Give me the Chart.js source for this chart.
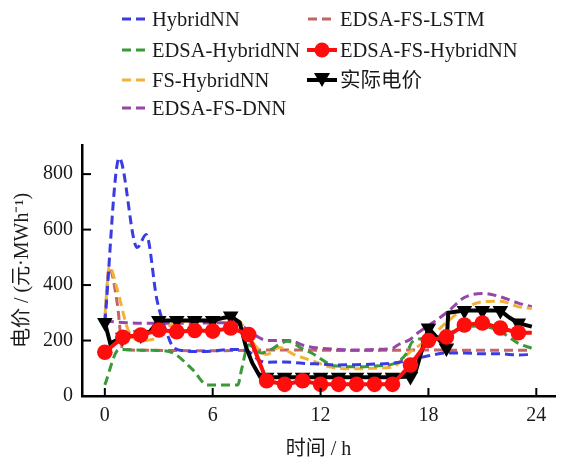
<!DOCTYPE html>
<html>
<head>
<meta charset="utf-8">
<script src="https://cdn.jsdelivr.net/npm/chart.js@4.4.1/dist/chart.umd.min.js"></script>
<style>
  html, body { margin:0; padding:0; background:#fff; }
  #wrap { position:relative; width:564px; height:462px; overflow:hidden; }
  canvas { position:absolute; left:0; top:0; }
  .lg { position:absolute; height:24px; line-height:24px; font-family:'Liberation Serif','Noto Sans CJK SC',serif; font-size:20.5px; color:#1a1a1a; white-space:nowrap; }
  .lg svg { position:absolute; top:0; }
</style>
</head>
<body>
<div id="wrap">
  <canvas id="c" width="564" height="462"></canvas>
  <div id="legend"></div>
</div>
<script>
// ---------- data ----------
const xTickValues = [0, 6, 12, 18, 24];
const yTickValues = [0, 200, 400, 600, 800];

const hybridX = [0, 0.8, 1.8, 2.3, 2.9, 3.45, 3.8, 4.5, 5, 6, 7, 8, 8.6, 9, 10, 11, 12, 13, 14, 15, 16, 17, 18, 19, 20, 21, 22, 23, 23.75];
const hybridY = [265, 858, 535, 582, 346, 227, 177, 162, 160, 162, 168, 160, 128, 122, 123, 118, 115, 112, 113, 115, 118, 130, 145, 155, 155, 152, 152, 148, 150];

const edsaHybridX = [0, 0.75, 1, 2, 3, 3.8, 4.9, 5.7, 6, 7, 7.4, 7.6, 8, 8.7, 9, 10.2, 11, 11.5, 12.6, 13, 14, 15, 16, 16.3, 16.8, 17.1, 18, 19, 20, 21, 22, 23, 23.75];
const edsaHybridY = [40, 166, 168, 165, 164, 155, 94, 40, 40, 40, 40, 94, 185, 155, 160, 197, 170, 155, 112, 108, 105, 108, 115, 123, 155, 195, 210, 222, 250, 252, 232, 190, 172];

const fsHybridX = [0, 0.25, 0.7, 1.3, 2, 2.7, 3.5, 4.3, 5, 6, 7, 7.5, 8.2, 9, 9.7, 10.5, 11.5, 12.5, 13, 14, 15, 16, 17, 18, 19, 20, 21, 22, 23, 23.75];
const fsHybridY = [285, 468, 382, 238, 200, 205, 250, 268, 272, 275, 280, 268, 195, 150, 175, 150, 128, 105, 100, 98, 100, 105, 160, 205, 265, 315, 340, 342, 322, 315];

const edsaFsDnnX = [0, 1, 2, 3, 4, 5, 6, 7, 7.5, 8, 8.6, 9, 10.2, 11.2, 12, 13, 14, 15, 16, 16.3, 17, 17.4, 17.9, 19, 20, 21, 22, 23, 23.75];
const edsaFsDnnY = [270, 265, 262, 262, 262, 262, 264, 264, 258, 235, 210, 200, 200, 180, 172, 168, 166, 168, 172, 184, 205, 227, 249, 300, 355, 370, 358, 335, 322];

const edsaFsLstmX = [0, 0.25, 0.7, 1, 2, 4, 6, 8, 10, 12, 14, 16, 18, 20, 22, 23.75];
const edsaFsLstmY = [270, 462, 330, 168, 165, 164, 163, 165, 166, 165, 164, 165, 166, 165, 165, 165];

const edsaFsHybridX = [0, 1, 2, 3, 4, 5, 6, 7, 8, 9, 10, 11, 12, 13, 14, 15, 16, 17, 18, 19, 20, 21, 22, 23, 23.75];
const edsaFsHybridY = [158, 212, 220, 238, 232, 236, 234, 245, 222, 55, 42, 55, 42, 42, 42, 42, 42, 112, 200, 213, 256, 263, 245, 228, 228];

const actualX = [0, 0.3, 1, 2, 2.5, 3, 4, 5, 6, 7, 7.5, 7.85, 8.2, 8.7, 9, 10, 11, 12, 13, 14, 15, 16, 17, 17.3, 18, 19, 19.1, 20, 21, 22, 22.5, 23, 23.75];
const actualY = [265, 190, 212, 220, 232, 272, 272, 272, 272, 288, 265, 177, 119, 62, 68, 68, 68, 68, 68, 68, 68, 68, 70, 90, 245, 173, 300, 308, 308, 308, 283, 263, 250];

// ---------- chart ----------
const FONT = "'Liberation Serif','Noto Sans CJK SC',serif";
const pts = (xs, ys) => xs.map((x, i) => ({ x: x, y: ys[i] }));
const onHour = r => ctx => (ctx.raw && Number.isInteger(ctx.raw.x)) ? r : 0;

const seriesDefs = [
  { label: 'EDSA-FS-HybridNN', x: edsaFsHybridX, y: edsaFsHybridY, color: '#ff0d0d', kind: 'circle' },
  { label: '实际电价', x: actualX, y: actualY, color: '#000000', kind: 'triangle' },
  { label: 'HybridNN', x: hybridX, y: hybridY, color: '#3b3be3', kind: 'dash' },
  { label: 'EDSA-HybridNN', x: edsaHybridX, y: edsaHybridY, color: '#3a9a3a', kind: 'dash' },
  { label: 'FS-HybridNN', x: fsHybridX, y: fsHybridY, color: '#f2b236', kind: 'dash' },
  { label: 'EDSA-FS-DNN', x: edsaFsDnnX, y: edsaFsDnnY, color: '#9646a6', kind: 'dash' },
  { label: 'EDSA-FS-LSTM', x: edsaFsLstmX, y: edsaFsLstmY, color: '#c46464', kind: 'dash' }
];

const datasets = seriesDefs.map(s => {
  const d = { label: s.label, data: pts(s.x, s.y), borderColor: s.color, backgroundColor: s.color, fill: false };
  if (s.kind === 'dash') {
    Object.assign(d, { borderWidth: 3, borderDash: [9, 5], tension: 0.4, cubicInterpolationMode: 'monotone', pointRadius: 0 });
  } else if (s.kind === 'circle') {
    Object.assign(d, { borderWidth: 4, tension: 0, pointRadius: onHour(7.8), pointStyle: 'circle', pointBorderWidth: 0, pointBackgroundColor: s.color });
  } else {
    Object.assign(d, { borderWidth: 4, tension: 0, pointRadius: onHour(9), pointStyle: 'triangle', rotation: 180, pointBorderWidth: 0, pointBackgroundColor: s.color });
  }
  return d;
});

const inwardTicks = {
  id: 'inwardTicks',
  afterDraw(chart) {
    const { ctx, scales: { x, y }, chartArea } = chart;
    ctx.save();
    ctx.strokeStyle = '#000';
    ctx.lineWidth = 2;
    x.ticks.forEach(t => {
      const px = x.getPixelForValue(t.value);
      ctx.beginPath(); ctx.moveTo(px, chartArea.bottom); ctx.lineTo(px, chartArea.bottom - 8); ctx.stroke();
    });
    y.ticks.forEach(t => {
      const py = y.getPixelForValue(t.value);
      ctx.beginPath(); ctx.moveTo(chartArea.left, py); ctx.lineTo(chartArea.left + 9, py); ctx.stroke();
    });
    ctx.restore();
  }
};

const chart = new Chart(document.getElementById('c'), {
  type: 'line',
  data: { datasets },
  options: {
    responsive: false,
    animation: false,
    devicePixelRatio: 1,
    layout: { padding: { top: 145, right: 4, left: 0, bottom: 0 } },
    plugins: { legend: { display: false }, tooltip: { enabled: false } },
    scales: {
      x: {
        type: 'linear', min: -1.27, max: 25.04,
        afterBuildTicks: s => { s.ticks = xTickValues.map(v => ({ value: v })); },
        afterFit: s => { s.height = 66; },
        grid: { display: false, drawTicks: false },
        border: { display: true, color: '#000', width: 2.5 },
        ticks: { color: '#1a1a1a', font: { family: FONT, size: 20 }, padding: 8, maxRotation: 0, autoSkip: false },
        title: { display: true, text: '时间 / h', color: '#1a1a1a', font: { family: FONT, size: 20 }, padding: { top: 0, bottom: 0 } }
      },
      y: {
        type: 'linear', min: 0, max: 905,
        afterBuildTicks: s => { s.ticks = yTickValues.map(v => ({ value: v })); },
        afterFit: s => { s.width = 82; },
        grid: { display: false, drawTicks: false },
        border: { display: true, color: '#000', width: 2.5 },
        ticks: { color: '#1a1a1a', font: { family: FONT, size: 20 }, padding: 9 },
        title: { display: true, text: '电价 / (元·MWh⁻¹)', color: '#1a1a1a', font: { family: FONT, size: 20 }, padding: { top: 11, bottom: 0 } }
      }
    }
  },
  plugins: [inwardTicks]
});

// ---------- HTML legend (two columns, column-major) ----------
const legendOrder = ['HybridNN', 'EDSA-HybridNN', 'FS-HybridNN', 'EDSA-FS-DNN', 'EDSA-FS-LSTM', 'EDSA-FS-HybridNN', '实际电价'];
const rowCenters = [18.5, 49.5, 79.5, 108];
const colSample = [120, 306];
const colText = [152, 340];
const legendEl = document.getElementById('legend');
legendOrder.forEach((name, i) => {
  const s = seriesDefs.find(d => d.label === name);
  const col = i < 4 ? 0 : 1;
  const row = i < 4 ? i : i - 4;
  const top = rowCenters[row] - 12;
  let svg;
  if (s.kind === 'dash') {
    svg = `<svg width="28" height="24" style="left:${colSample[col] - colText[col]}px"><line x1="2" y1="12" x2="26" y2="12" stroke="${s.color}" stroke-width="3" stroke-dasharray="9,5"/></svg>`;
  } else if (s.kind === 'circle') {
    svg = `<svg width="32" height="24" style="left:${colSample[col] - colText[col]}px"><line x1="1" y1="12" x2="31" y2="12" stroke="${s.color}" stroke-width="4"/><circle cx="16" cy="12" r="7.5" fill="${s.color}"/></svg>`;
  } else {
    svg = `<svg width="32" height="24" style="left:${colSample[col] - colText[col]}px"><line x1="1" y1="12" x2="31" y2="12" stroke="${s.color}" stroke-width="4"/><polygon points="8,5 24,5 16,19" fill="${s.color}"/></svg>`;
  }
  const div = document.createElement('div');
  div.className = 'lg';
  div.style.left = colText[col] + 'px';
  div.style.top = top + 'px';
  div.innerHTML = svg + '<span>' + name + '</span>';
  legendEl.appendChild(div);
});
</script>
</body>
</html>
